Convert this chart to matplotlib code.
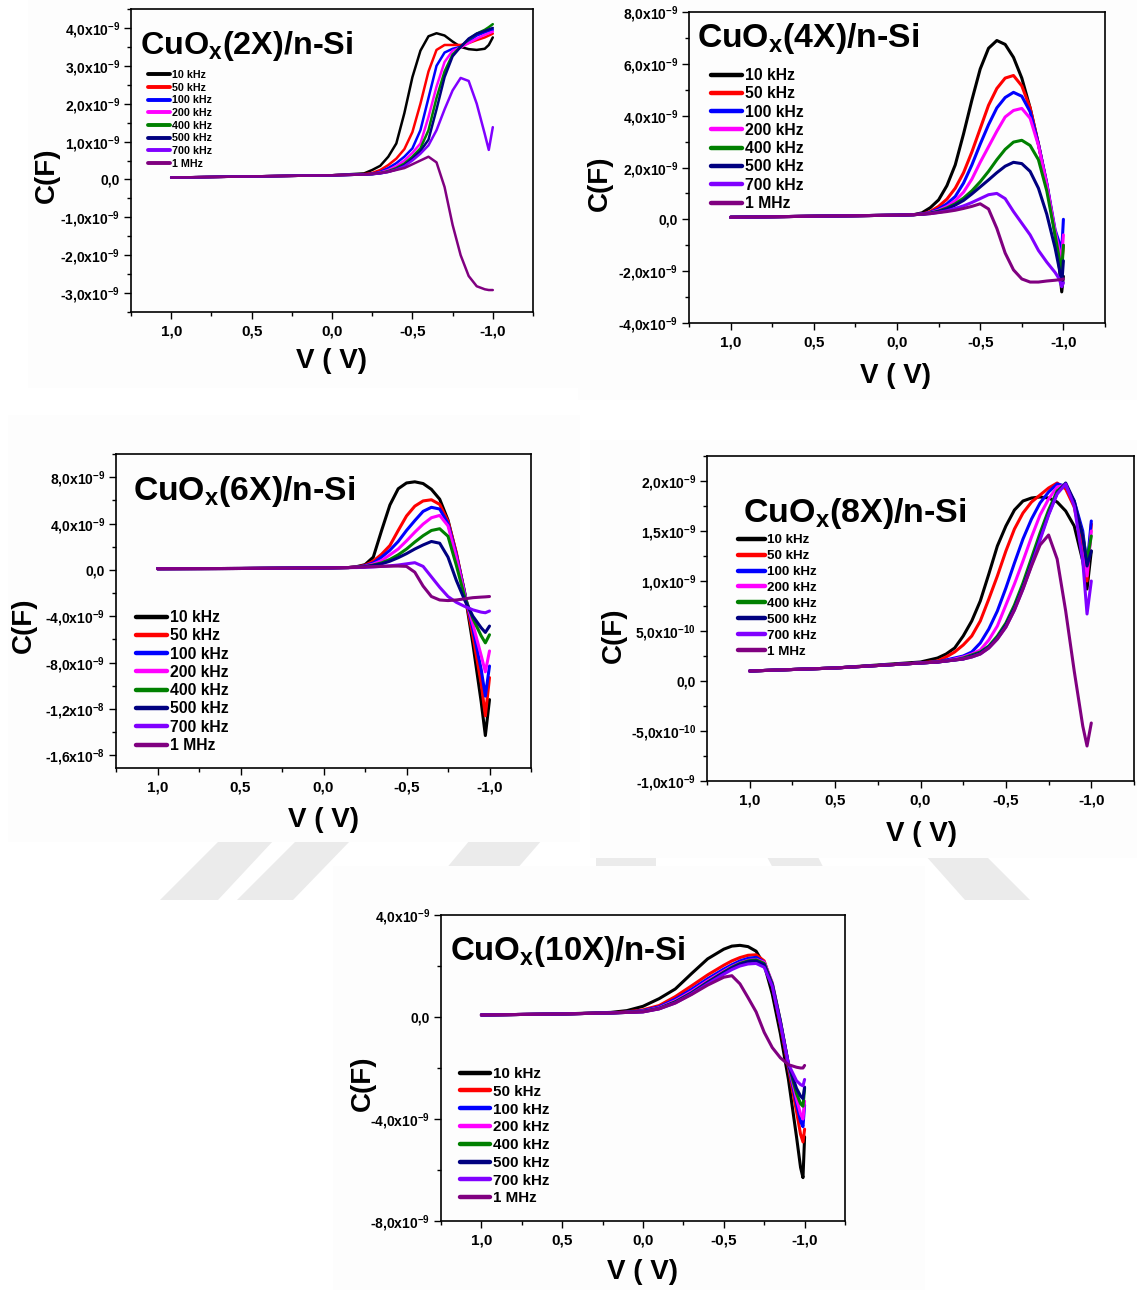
import matplotlib
matplotlib.use("Agg")
import numpy as np
import matplotlib.pyplot as plt
from matplotlib.ticker import FuncFormatter
from matplotlib.patches import Rectangle, Polygon

plt.rcParams['font.family'] = ['Liberation Sans', 'DejaVu Sans']
plt.rcParams['font.weight'] = 'bold'
plt.rcParams['mathtext.fontset'] = 'custom'
plt.rcParams['mathtext.rm'] = 'Liberation Sans:bold'
plt.rcParams['mathtext.it'] = 'Liberation Sans:bold:italic'
plt.rcParams['mathtext.bf'] = 'Liberation Sans:bold'
plt.rcParams['mathtext.default'] = 'rm'

FREQS = ['10 kHz', '50 kHz', '100 kHz', '200 kHz', '400 kHz', '500 kHz', '700 kHz', '1 MHz']
COLORS = ['#000000', '#ff0000', '#0000ff', '#ff00ff', '#008000', '#000080', '#8000ff', '#800080']

# capacitance values below are in nF (x1e-9 F), one row per frequency

# CuOx(2X)/n-Si
v_2x = [1.0, 0.5, 0.0, -0.2, -0.25, -0.3, -0.35, -0.4, -0.45, -0.5, -0.55, -0.6, -0.65,
        -0.7, -0.75, -0.8, -0.85, -0.9, -0.95, -0.975, -1.0]
c_2x = [
    [0.05, 0.08, 0.11, 0.16, 0.25, 0.36, 0.6, 0.95, 1.75, 2.7, 3.4, 3.78, 3.86, 3.8, 3.64, 3.5, 3.44, 3.42, 3.45, 3.55, 3.75],
    [0.05, 0.08, 0.11, 0.14, 0.17, 0.25, 0.38, 0.55, 0.8, 1.25, 2.0, 2.85, 3.42, 3.55, 3.55, 3.55, 3.6, 3.68, 3.75, 3.8, 3.85],
    [0.05, 0.08, 0.11, 0.13, 0.15, 0.2, 0.3, 0.43, 0.6, 0.82, 1.3, 2.15, 3.0, 3.35, 3.45, 3.5, 3.65, 3.8, 3.88, 3.92, 3.95],
    [0.05, 0.08, 0.11, 0.13, 0.14, 0.18, 0.25, 0.35, 0.5, 0.7, 0.95, 1.65, 2.45, 3.1, 3.4, 3.48, 3.6, 3.72, 3.82, 3.86, 3.9],
    [0.05, 0.08, 0.11, 0.13, 0.14, 0.17, 0.22, 0.3, 0.42, 0.6, 0.82, 1.3, 2.15, 2.85, 3.3, 3.5, 3.7, 3.85, 3.95, 4.02, 4.1],
    [0.05, 0.08, 0.11, 0.13, 0.14, 0.16, 0.2, 0.27, 0.38, 0.55, 0.75, 1.05, 1.85, 2.7, 3.25, 3.5, 3.72, 3.85, 3.92, 3.96, 4.0],
    [0.05, 0.08, 0.11, 0.13, 0.14, 0.16, 0.2, 0.26, 0.35, 0.5, 0.68, 0.9, 1.3, 1.85, 2.35, 2.68, 2.6, 2.0, 1.2, 0.78, 1.38],
    [0.05, 0.08, 0.11, 0.13, 0.15, 0.17, 0.2, 0.25, 0.3, 0.4, 0.5, 0.6, 0.45, -0.2, -1.2, -2.0, -2.55, -2.82, -2.9, -2.92, -2.92],
]

# CuOx(4X)/n-Si
v_4x = [1.0, 0.5, 0.0, -0.1, -0.15, -0.2, -0.25, -0.3, -0.35, -0.4, -0.45, -0.5, -0.55, -0.6,
        -0.65, -0.7, -0.75, -0.8, -0.85, -0.9, -0.95, -0.975, -0.99, -1.0]
c_4x = [
    [0.08, 0.12, 0.16, 0.18, 0.25, 0.45, 0.75, 1.3, 2.1, 3.3, 4.6, 5.8, 6.6, 6.9, 6.75, 6.25, 5.45, 4.3, 2.9, 1.35, -0.55, -1.8, -2.8, -2.2],
    [0.08, 0.12, 0.16, 0.18, 0.2, 0.3, 0.5, 0.78, 1.2, 1.8, 2.6, 3.5, 4.4, 5.05, 5.45, 5.55, 5.15, 4.3, 2.9, 1.35, -0.5, -1.3, -1.7, -1.0],
    [0.08, 0.12, 0.16, 0.18, 0.2, 0.27, 0.4, 0.6, 0.88, 1.4, 2.1, 2.9, 3.65, 4.3, 4.7, 4.9, 4.75, 4.15, 2.9, 1.4, -0.4, -0.9, -1.2, 0.0],
    [0.08, 0.12, 0.16, 0.18, 0.2, 0.25, 0.35, 0.5, 0.72, 1.05, 1.55, 2.2, 2.8, 3.4, 3.95, 4.2, 4.28, 3.9, 2.85, 1.35, -0.45, -1.2, -1.5, -0.6],
    [0.08, 0.12, 0.16, 0.18, 0.2, 0.24, 0.32, 0.44, 0.6, 0.82, 1.1, 1.45, 1.85, 2.3, 2.7, 2.98, 3.05, 2.85, 2.3, 1.1, -0.6, -1.5, -2.0, -1.0],
    [0.08, 0.12, 0.16, 0.18, 0.2, 0.23, 0.3, 0.4, 0.55, 0.73, 0.98, 1.25, 1.52, 1.8, 2.05, 2.2, 2.15, 1.85, 1.2, 0.2, -1.1, -1.9, -2.5, -1.6],
    [0.08, 0.12, 0.16, 0.18, 0.2, 0.22, 0.27, 0.33, 0.42, 0.52, 0.65, 0.8, 0.95, 1.0, 0.8, 0.3, -0.15, -0.6, -1.2, -1.65, -2.05, -2.3, -2.6, -2.45],
    [0.08, 0.12, 0.16, 0.18, 0.2, 0.22, 0.26, 0.3, 0.35, 0.42, 0.5, 0.6, 0.4, -0.35, -1.3, -1.95, -2.3, -2.42, -2.42, -2.38, -2.35, -2.33, -2.32, -2.3],
]

# CuOx(6X)/n-Si
v_6x = [1.0, 0.5, 0.0, -0.15, -0.2, -0.25, -0.3, -0.35, -0.4, -0.45, -0.5, -0.55, -0.6, -0.65,
        -0.7, -0.75, -0.8, -0.85, -0.9, -0.95, -0.975, -1.0]
c_6x = [
    [0.1, 0.12, 0.17, 0.2, 0.28, 0.45, 1.1, 3.4, 5.6, 7.0, 7.5, 7.6, 7.45, 6.95, 6.1, 4.3, 1.4, -1.9, -6.4, -11.4, -14.3, -11.2],
    [0.1, 0.12, 0.17, 0.2, 0.25, 0.4, 0.75, 1.35, 2.1, 3.4, 4.65, 5.5, 5.95, 6.05, 5.65, 4.2, 1.5, -2.0, -5.7, -9.8, -12.6, -9.3],
    [0.1, 0.12, 0.17, 0.2, 0.24, 0.35, 0.6, 1.1, 1.7, 2.45, 3.4, 4.25, 5.05, 5.4, 5.25, 4.0, 1.3, -2.0, -5.1, -8.6, -10.9, -8.3],
    [0.1, 0.12, 0.17, 0.2, 0.23, 0.3, 0.5, 0.8, 1.3, 1.8, 2.5, 3.25, 3.95, 4.5, 4.7, 3.8, 1.1, -2.1, -4.7, -7.4, -8.8, -7.0],
    [0.1, 0.12, 0.17, 0.2, 0.22, 0.28, 0.42, 0.6, 0.9, 1.3, 1.8, 2.4, 2.95, 3.4, 3.55, 2.9, 0.4, -2.3, -4.2, -5.7, -6.3, -5.6],
    [0.1, 0.12, 0.17, 0.2, 0.21, 0.26, 0.38, 0.52, 0.75, 1.05, 1.4, 1.8, 2.15, 2.45, 2.3, 1.1, -0.9, -2.6, -4.0, -5.0, -5.4, -4.85],
    [0.1, 0.12, 0.17, 0.2, 0.2, 0.22, 0.25, 0.3, 0.35, 0.42, 0.52, 0.62, 0.3, -0.6, -1.5, -2.3, -2.8, -3.15, -3.45, -3.65, -3.7, -3.55],
    [0.1, 0.12, 0.17, 0.2, 0.22, 0.25, 0.28, 0.3, 0.32, 0.33, 0.3, -0.2, -1.4, -2.3, -2.6, -2.65, -2.6, -2.5, -2.4, -2.35, -2.33, -2.3],
]

# CuOx(8X)/n-Si
v_8x = [1.0, 0.5, 0.0, -0.1, -0.15, -0.2, -0.25, -0.3, -0.35, -0.4, -0.45, -0.5, -0.55, -0.6,
        -0.65, -0.7, -0.75, -0.8, -0.85, -0.9, -0.95, -0.975, -1.0]
c_8x = [
    [0.1, 0.13, 0.19, 0.23, 0.27, 0.33, 0.45, 0.6, 0.8, 1.07, 1.35, 1.55, 1.71, 1.8, 1.83, 1.84, 1.83, 1.79, 1.7, 1.55, 1.2, 0.92, 1.3],
    [0.1, 0.13, 0.18, 0.2, 0.24, 0.29, 0.36, 0.45, 0.6, 0.82, 1.05, 1.3, 1.52, 1.68, 1.79, 1.86, 1.93, 1.98, 1.92, 1.74, 1.35, 1.0, 1.57],
    [0.1, 0.13, 0.18, 0.19, 0.21, 0.23, 0.25, 0.29, 0.38, 0.52, 0.7, 0.93, 1.18, 1.42, 1.62, 1.78, 1.89, 1.97, 1.95, 1.8, 1.5, 1.15, 1.6],
    [0.1, 0.13, 0.18, 0.19, 0.2, 0.22, 0.24, 0.27, 0.31, 0.41, 0.55, 0.76, 0.97, 1.2, 1.44, 1.66, 1.82, 1.94, 1.96, 1.78, 1.45, 1.05, 1.5],
    [0.1, 0.13, 0.18, 0.19, 0.2, 0.21, 0.23, 0.26, 0.29, 0.35, 0.45, 0.58, 0.76, 0.98, 1.23, 1.48, 1.71, 1.9, 1.97, 1.78, 1.45, 1.2, 1.45],
    [0.1, 0.13, 0.18, 0.19, 0.2, 0.21, 0.22, 0.25, 0.28, 0.34, 0.43, 0.56, 0.73, 0.94, 1.18, 1.43, 1.67, 1.88, 1.98, 1.8, 1.45, 1.15, 1.3],
    [0.1, 0.13, 0.18, 0.19, 0.2, 0.21, 0.22, 0.24, 0.27, 0.33, 0.42, 0.54, 0.71, 0.92, 1.16, 1.41, 1.66, 1.87, 1.97, 1.75, 1.2, 0.67, 1.0],
    [0.1, 0.13, 0.18, 0.19, 0.2, 0.21, 0.22, 0.24, 0.27, 0.33, 0.42, 0.54, 0.71, 0.92, 1.15, 1.36, 1.46, 1.22, 0.7, 0.1, -0.45, -0.65, -0.42],
]

# CuOx(10X)/n-Si
v_10x = [1.0, 0.5, 0.2, 0.1, 0.0, -0.1, -0.2, -0.3, -0.4, -0.5, -0.55, -0.6, -0.65, -0.7,
         -0.75, -0.8, -0.85, -0.9, -0.95, -0.975, -0.99, -1.0]
c_10x = [
    [0.08, 0.12, 0.18, 0.25, 0.42, 0.72, 1.1, 1.7, 2.28, 2.66, 2.78, 2.81, 2.76, 2.58, 2.05, 0.9, -0.65, -2.45, -4.7, -5.9, -6.3, -4.7],
    [0.08, 0.12, 0.16, 0.2, 0.28, 0.45, 0.8, 1.22, 1.65, 2.03, 2.2, 2.33, 2.42, 2.44, 2.2, 1.25, -0.3, -2.0, -3.7, -4.6, -4.9, -4.4],
    [0.08, 0.12, 0.16, 0.19, 0.25, 0.4, 0.7, 1.08, 1.5, 1.88, 2.05, 2.2, 2.3, 2.34, 2.15, 1.3, -0.2, -1.9, -3.4, -4.1, -4.3, -3.45],
    [0.08, 0.12, 0.16, 0.18, 0.23, 0.36, 0.64, 1.0, 1.42, 1.8, 1.98, 2.12, 2.22, 2.26, 2.15, 1.35, -0.15, -1.85, -3.2, -3.8, -4.0, -3.3],
    [0.08, 0.12, 0.16, 0.18, 0.22, 0.34, 0.6, 0.95, 1.37, 1.76, 1.95, 2.1, 2.2, 2.24, 2.1, 1.3, -0.15, -1.85, -3.0, -3.4, -3.5, -2.8],
    [0.08, 0.12, 0.16, 0.18, 0.21, 0.33, 0.58, 0.93, 1.35, 1.74, 1.92, 2.07, 2.17, 2.2, 2.05, 1.25, -0.2, -1.85, -2.8, -3.1, -3.2, -2.75],
    [0.08, 0.12, 0.16, 0.18, 0.2, 0.32, 0.55, 0.9, 1.3, 1.68, 1.86, 2.0, 2.08, 2.1, 1.95, 1.2, -0.25, -1.85, -2.5, -2.65, -2.7, -2.45],
    [0.08, 0.12, 0.16, 0.18, 0.2, 0.32, 0.55, 0.88, 1.25, 1.56, 1.62, 1.3, 0.76, 0.2, -0.6, -1.2, -1.6, -1.87, -1.97, -2.0, -2.0, -1.9],
]

W, H = 1137, 1290
fig = plt.figure(figsize=(W / 100, H / 100), dpi=100)


def fig_box(l, r, t, b):
    return [l / W, 1 - b / H, (r - l) / W, (b - t) / H]


def to_axes(box, px, py):
    l, r, t, b = box
    return (px - l) / (r - l), (b - py) / (b - t)


def ticks_in(lo, hi, step):
    # multiples of step that fall inside [lo, hi]
    k0 = int(np.ceil(lo / step - 1e-6))
    k1 = int(np.floor(hi / step + 1e-6))
    return [k * step for k in range(k0, k1 + 1)]


# faint watermark stripes and the off-white plot backgrounds
stripes = [
    [(220, 840), (274, 840), (218, 900), (160, 900)],
    [(297, 840), (351, 840), (293, 900), (237, 900)],
    [(470, 840), (542, 840), (490, 900), (420, 900)],
    [(596, 855), (656, 855), (656, 900), (596, 900)],
    [(766, 855), (817, 855), (840, 900), (790, 900)],
    [(925, 855), (985, 855), (1030, 900), (965, 900)],
]
for pts in stripes:
    fig.add_artist(Polygon([(x / W, 1 - y / H) for x, y in pts], closed=True,
                           transform=fig.transFigure, color='#ebebeb', lw=0, zorder=-20))

for l, r, t, b in [(28, 578, 0, 388), (578, 1137, 0, 400), (8, 580, 415, 842),
                   (590, 1137, 440, 858), (333, 925, 866, 1290)]:
    fig.add_artist(Rectangle((l / W, 1 - b / H), (r - l) / W, (b - t) / H,
                             transform=fig.transFigure, color='#fdfdfd', lw=0, zorder=-10))


def y_fmt(v, pos):
    if abs(v) < 1e-15:
        return '0,0'
    m, e = f'{v:.1e}'.split('e')
    return m.replace('.', ',') + 'x10$^{' + str(int(e)) + '}$'


def x_fmt(v, pos):
    if abs(v) < 1e-9:
        return '0,0'
    return f'{v:.1f}'.replace('.', ',')


panels = [
    dict(title='CuO$_{\\mathrm{x}}$(2X)/n-Si', v=v_2x, c=c_2x, box=(131, 533, 9, 312),
         ylim=(-3.5, 4.5), major=1.0, minor=0.5, lw=1.8, title_fs=23.3,
         title_px=(140, 54), leg_px=(148, 70), leg_fs=7.7, leg_ls=0.25, leg_hl=2.05,
         ylab_px=(47, 175), xlab_px=(332, 361)),
    dict(title='CuO$_{\\mathrm{x}}$(4X)/n-Si', v=v_4x, c=c_4x, box=(689, 1105, 12, 323),
         ylim=(-4.0, 8.0), major=2.0, minor=1.0, lw=2.2, title_fs=24.3,
         title_px=(697, 47), leg_px=(711, 68), leg_fs=11.3, leg_ls=0.21, leg_hl=1.95,
         ylab_px=(600, 183), xlab_px=(896, 376)),
    dict(title='CuO$_{\\mathrm{x}}$(6X)/n-Si', v=v_6x, c=c_6x, box=(116, 531, 454, 768),
         ylim=(-17.1, 10.0), major=4.0, minor=2.0, lw=2.2, title_fs=24.3,
         title_px=(133, 500), leg_px=(136, 610), leg_fs=11.3, leg_ls=0.21, leg_hl=1.95,
         ylab_px=(24, 625), xlab_px=(323, 820)),
    dict(title='CuO$_{\\mathrm{x}}$(8X)/n-Si', v=v_8x, c=c_8x, box=(707, 1134, 456, 781),
         ylim=(-1.0, 2.25), major=0.5, minor=0.25, lw=2.2, title_fs=24.5,
         title_px=(743, 522), leg_px=(738, 534), leg_fs=9.6, leg_ls=0.27, leg_hl=2.0,
         ylab_px=(614, 635), xlab_px=(921, 834)),
    dict(title='CuO$_{\\mathrm{x}}$(10X)/n-Si', v=v_10x, c=c_10x, box=(441, 845, 915, 1221),
         ylim=(-8.0, 4.0), major=4.0, minor=2.0, lw=2.2, title_fs=23.8,
         title_px=(450, 960), leg_px=(460, 1067), leg_fs=10.9, leg_ls=0.25, leg_hl=1.95,
         ylab_px=(363, 1083), xlab_px=(643, 1272)),
]

for p in panels:
    box = p['box']
    ax = fig.add_axes(fig_box(*box))
    ax.set_facecolor('none')

    for vals, label, color in zip(p['c'], FREQS, COLORS):
        ax.plot(p['v'], [c * 1e-9 for c in vals], color=color, lw=p['lw'],
                label=label, solid_joinstyle='round', solid_capstyle='round')

    y0, y1 = p['ylim']
    ax.set_xlim(1.25, -1.25)
    ax.set_ylim(y0 * 1e-9, y1 * 1e-9)
    ax.set_xticks(ticks_in(-1.25, 1.25, 0.5))
    ax.set_xticks(ticks_in(-1.25, 1.25, 0.25), minor=True)
    ax.set_yticks([t * 1e-9 for t in ticks_in(y0, y1, p['major'])])
    ax.set_yticks([t * 1e-9 for t in ticks_in(y0, y1, p['minor'])], minor=True)
    ax.xaxis.set_major_formatter(FuncFormatter(x_fmt))
    ax.yaxis.set_major_formatter(FuncFormatter(y_fmt))
    ax.tick_params(which='both', direction='out', width=1.0, top=False, right=False)
    ax.tick_params(which='major', length=5)
    ax.tick_params(which='minor', length=3)
    ax.tick_params(axis='x', labelsize=11, pad=4)
    ax.tick_params(axis='y', labelsize=10, pad=3)
    for s in ax.spines.values():
        s.set_linewidth(1.2)

    tx, ty = to_axes(box, *p['title_px'])
    ax.text(tx, ty, p['title'], transform=ax.transAxes, fontsize=p['title_fs'],
            fontweight='bold', ha='left', va='baseline')

    lx, ly = to_axes(box, *p['leg_px'])
    leg = ax.legend(loc='upper left', bbox_to_anchor=(lx, ly), frameon=False,
                    fontsize=p['leg_fs'], handlelength=p['leg_hl'], handletextpad=0.2,
                    labelspacing=p['leg_ls'], borderpad=0, borderaxespad=0)
    for line in leg.get_lines():
        line.set_linewidth(p['lw'] + 1.0)

    yx, yy = to_axes(box, *p['ylab_px'])
    ax.text(yx, yy, 'C(F)', transform=ax.transAxes, rotation=90, fontsize=20,
            fontweight='bold', ha='center', va='center')
    xx, xy = to_axes(box, *p['xlab_px'])
    ax.text(xx, xy, 'V ( V)', transform=ax.transAxes, fontsize=20,
            fontweight='bold', ha='center', va='center')

fig.savefig('out.png', dpi=100)
